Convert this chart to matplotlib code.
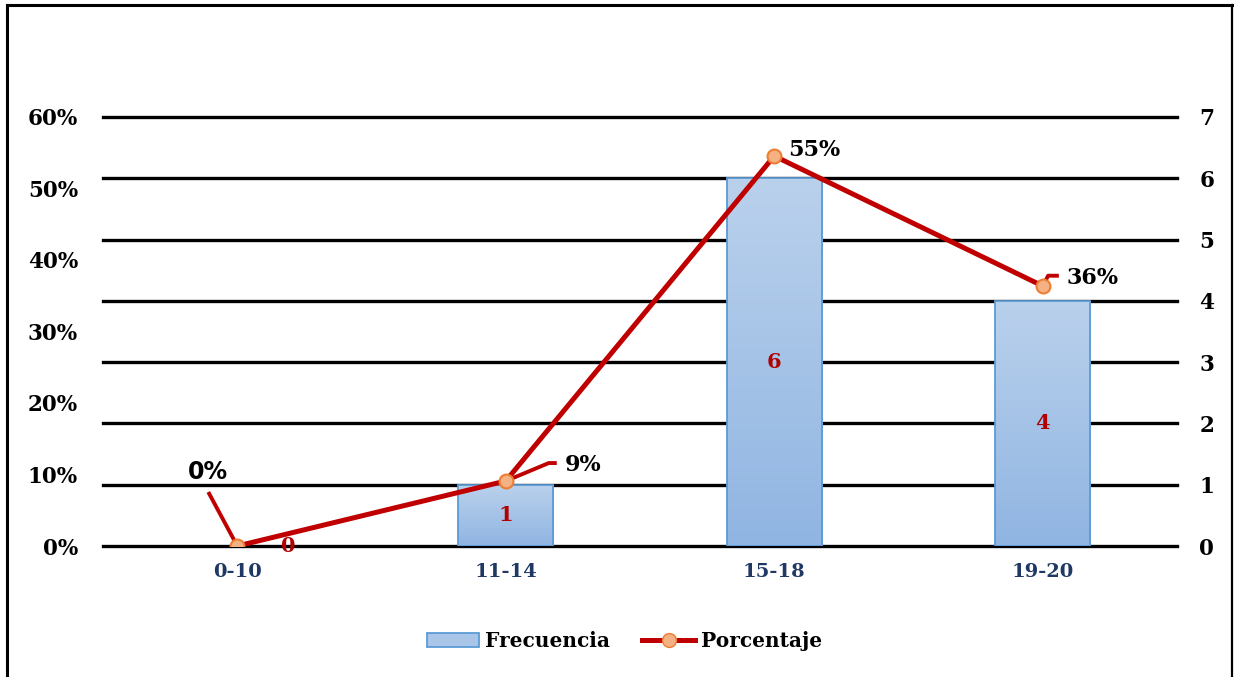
import numpy as np
import matplotlib.pyplot as plt
from matplotlib.lines import Line2D
from matplotlib.patches import Patch
from matplotlib.colors import LinearSegmentedColormap

# grade ranges, counts and their share of the 11 students
categorias = ['0-10', '11-14', '15-18', '19-20']
frecuencia = [0, 1, 6, 4]
porcentaje = [0.0, 1 / 11, 6 / 11, 4 / 11]
ticks_pct = [0, 0.1, 0.2, 0.3, 0.4, 0.5, 0.6]
ticks_frec = [0, 1, 2, 3, 4, 5, 6, 7]

SERIF = 'DejaVu Serif'
rojo = '#C00000'
navy = '#1F3864'

fig = plt.figure(figsize=(12.34, 6.77), dpi=100)
ax_f = fig.add_axes([0.0835, 0.1935, 0.8703, 0.6337])  # counts, right scale
ax_p = ax_f.twinx()                                      # percentages, left scale
ax_p.yaxis.tick_left()
ax_f.yaxis.tick_right()

x = np.arange(len(categorias))

# gridlines of the count axis
for t in ticks_frec:
    ax_f.axhline(t, color='black', lw=2.4, zorder=1, clip_on=False)

# bars with a vertical light-to-dark blue gradient
cmap = LinearSegmentedColormap.from_list('azul', ['#90B5E2', '#BAD1EC'])
grad = np.linspace(0, 1, 256).reshape(-1, 1)
bars = ax_f.bar(x, frecuencia, width=0.355, color='none', edgecolor='#5B9BD5',
                lw=1.3, zorder=3)
for b in bars:
    if b.get_height() == 0:
        b.set_linewidth(0)
        continue
    x0, y0 = b.get_x(), b.get_y()
    im = ax_f.imshow(grad, cmap=cmap, origin='lower', aspect='auto',
                     extent=[x0, x0 + b.get_width(), y0, y0 + b.get_height()],
                     zorder=2)
    im.set_clip_path(b)
ax_f.set_xlim(-0.5, len(categorias) - 0.5)
ax_f.set_ylim(0, 7)
ax_p.set_ylim(0, 0.6)

# count labels inside the bars
for i, v in enumerate(frecuencia):
    dx = 0.19 if v == 0 else 0
    ax_f.text(x[i] + dx, v / 2, f'{v}', color='#B00000', fontsize=15,
              fontweight='bold', family=SERIF, ha='center', va='center', zorder=6)

# percentage line
ax_p.plot(x, porcentaje, color=rojo, lw=3.6, marker='o', markersize=10,
          markerfacecolor='#F4B183', markeredgecolor='#ED7D31',
          markeredgewidth=1.5, zorder=5)

# percentage labels with leader lines
etiquetas = [
    (-0.108, 0.104, [(-0.108, 0.0755)], 'DejaVu Sans', 'center', 17),
    (0.22, 0.113, [(0.16, 0.116), (0.19, 0.116)], SERIF, 'left', 16),
    (0.053, 0.554, [], SERIF, 'left', 16),
    (0.088, 0.375, [(0.02, 0.378), (0.06, 0.378)], SERIF, 'left', 16),
]
for i, (dx, ty, guia, fam, ha, fs) in enumerate(etiquetas):
    if guia:
        gx = [x[i]] + [x[i] + p[0] for p in guia]
        gy = [porcentaje[i]] + [p[1] for p in guia]
        ax_p.plot(gx, gy, color=rojo, lw=2.8, zorder=4, solid_capstyle='butt')
    ax_p.text(x[i] + dx, ty, f'{porcentaje[i]:.0%}', fontsize=fs,
              fontweight='bold', family=fam, ha=ha, va='center', zorder=6)

# axes styling
ax_p.set_yticks(ticks_pct)
ax_p.set_yticklabels([f'{t:.0%}' for t in ticks_pct])
ax_f.set_yticks(ticks_frec)
ax_f.set_xticks(x)
ax_f.set_xticklabels(categorias)
for a in (ax_f, ax_p):
    for s in a.spines.values():
        s.set_visible(False)
    a.tick_params(length=0)
ax_p.tick_params(axis='y', pad=18, labelsize=15.5)
ax_f.tick_params(axis='y', pad=16, labelsize=15.5)
ax_f.tick_params(axis='x', pad=12, labelsize=14, labelcolor=navy)
for lab in ax_p.get_yticklabels() + ax_f.get_yticklabels() + ax_f.get_xticklabels():
    lab.set_family(SERIF)
    lab.set_fontweight('bold')

# legend below the plot
handles = [
    Patch(facecolor='#A9C6E8', edgecolor='#5B9BD5', lw=1.3),
    Line2D([0], [0], color=rojo, lw=3.6, marker='o', markersize=10,
           markerfacecolor='#F4B183', markeredgecolor='#ED7D31'),
]
fig.legend(handles, ['Frecuencia', 'Porcentaje'], loc='center',
           bbox_to_anchor=(0.506, 0.053), ncol=2, frameon=False,
           prop={'family': SERIF, 'weight': 'bold', 'size': 14.5},
           handlelength=2.6, handletextpad=0.3, columnspacing=1.6)

# outer frame
fig.add_artist(Line2D([0.0055, 0.0055], [0, 0.992], color='black', lw=2.2))
fig.add_artist(Line2D([0.0055, 0.9985], [0.992, 0.992], color='black', lw=2.2))
fig.add_artist(Line2D([0.9985, 0.9985], [0, 0.992], color='black', lw=1.6))

fig.savefig('out.png', dpi=100, facecolor='white')
